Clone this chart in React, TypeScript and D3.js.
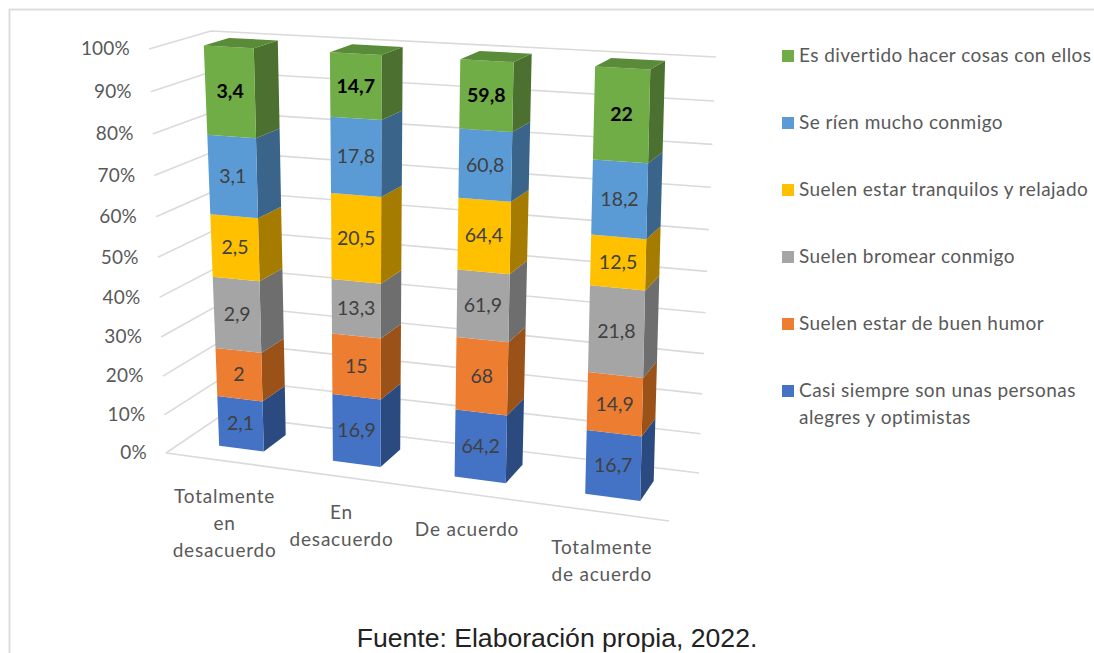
import React from "react";
import * as d3 from "d3";

const categories = [
  ["Totalmente", "en", "desacuerdo"],
  ["En", "desacuerdo"],
  ["De acuerdo"],
  ["Totalmente", "de acuerdo"],
];
const seriesNames = [
  ["Casi siempre son unas personas", "alegres y optimistas"],
  ["Suelen estar de buen humor"],
  ["Suelen bromear conmigo"],
  ["Suelen estar tranquilos y relajado"],
  ["Se ríen mucho conmigo"],
  ["Es divertido hacer cosas con ellos"],
];
const seriesValues = [
  [2.1, 16.9, 64.2, 16.7],
  [2, 15, 68, 14.9],
  [2.9, 13.3, 61.9, 21.8],
  [2.5, 20.5, 64.4, 12.5],
  [3.1, 17.8, 60.8, 18.2],
  [3.4, 14.7, 59.8, 22],
];
const valueLabels = [
  ["2,1", "16,9", "64,2", "16,7"],
  ["2", "15", "68", "14,9"],
  ["2,9", "13,3", "61,9", "21,8"],
  ["2,5", "20,5", "64,4", "12,5"],
  ["3,1", "17,8", "60,8", "18,2"],
  ["3,4", "14,7", "59,8", "22"],
];
const percentTicks = [0, 10, 20, 30, 40, 50, 60, 70, 80, 90, 100];
const frontColors = ["#4472C4", "#ED7D31", "#A5A5A5", "#FFC000", "#5B9BD5", "#70AD47"];
const sideColors = ["#2B4A80", "#9A5219", "#6E6E6E", "#A67C00", "#3A6489", "#4C7030"];
const topColor = "#5A8B38";

// Plot box corners on screen: [u, w] → bottom / top of the box
const boxBottom = { p00: [166, 453], p10: [669, 521], p01: [222, 415], p11: [699, 473] };
const boxTop = { p00: [149, 49], p10: [683, 78], p01: [211, 31], p11: [716, 57] };

type Pt = [number, number];

function homography(q: { p00: number[]; p10: number[]; p01: number[]; p11: number[] }) {
  // unit square → quad
  const [x0, y0] = q.p00, [x1, y1] = q.p10, [x2, y2] = q.p11, [x3, y3] = q.p01;
  const dx1 = x1 - x2, dx2 = x3 - x2, sx = x0 - x1 + x2 - x3;
  const dy1 = y1 - y2, dy2 = y3 - y2, sy = y0 - y1 + y2 - y3;
  const det = dx1 * dy2 - dx2 * dy1;
  const g = (sx * dy2 - dx2 * sy) / det;
  const h = (dx1 * sy - sx * dy1) / det;
  const a = x1 - x0 + g * x1, b = x3 - x0 + h * x3, c = x0;
  const d = y1 - y0 + g * y1, e = y3 - y0 + h * y3, f = y0;
  return (u: number, w: number): Pt => {
    const den = g * u + h * w + 1;
    return [(a * u + b * w + c) / den, (d * u + e * w + f) / den];
  };
}

const floorH = homography(boxBottom);
const ceilH = homography(boxTop);
const heightScale = d3.scaleLinear().domain([0, 100]).range([0, 1]);
const foreshorten = 1.064; // height spacing grows towards the top
const catBand = d3.scaleBand<number>().domain([0, 1, 2, 3]).range([0.007, 1.007]).paddingInner(0.6).paddingOuter(0.3);
const frontDepth = 0.3;
const backDepth = 0.72;
const barLean = 5; // columns lean slightly left of the wall's verticals

function warp(pct: number) {
  const s = heightScale(pct);
  return s / (s + foreshorten * (1 - s));
}

function project(u: number, pct: number, w: number): Pt {
  const t = warp(pct);
  const a = floorH(u, w);
  const b = ceilH(u, w);
  return [a[0] + (b[0] - a[0]) * t, a[1] + (b[1] - a[1]) * t];
}

function barPoint(u: number, pct: number, w: number): Pt {
  const p = project(u, pct, w);
  return [p[0] - barLean * warp(pct), p[1]];
}

const poly = (pts: Pt[]) => pts.map((p) => p[0].toFixed(1) + "," + p[1].toFixed(1)).join(" ");

const labelFont = "Lato, 'Open Sans', sans-serif";
const gridColor = "#DADADA";
const legendY = [56, 123, 190, 257, 324, 391];

export default function App() {
  const columns = categories.map((_, c) => {
    const total = d3.sum(seriesValues, (s) => s[c]);
    let acc = 0;
    const u0 = catBand(c)!;
    const u1 = u0 + catBand.bandwidth();
    const segs = seriesValues.map((s, i) => {
      const lo = (acc / total) * 100;
      acc += s[c];
      const hi = (acc / total) * 100;
      return { i, lo, hi };
    });
    return { c, u0, u1, segs };
  });

  return (
    <svg
      width={1094}
      height={653}
      viewBox="0 0 1094 653"
      style={{ position: "fixed", left: 0, top: 0, background: "#fff" }}
    >
      <polyline points="9.5,653 9.5,9.5 1094,9.5" fill="none" stroke="#DDDDDD" strokeWidth={2} />
      {percentTicks.map((t) => {
        const a = project(0, t, 0);
        const b = project(0, t, 1);
        const c = project(1, t, 1);
        return (
          <g key={t}>
            <polyline points={poly([a, b, c])} fill="none" stroke={gridColor} strokeWidth={1.6} />
            <text
              x={a[0] - 19}
              y={a[1] + 1.5}
              textAnchor="end"
              dominantBaseline="middle"
              fontFamily={labelFont}
              fontSize={19}
              letterSpacing={0.2}
              fill="#595959"
            >
              {t}%
            </text>
          </g>
        );
      })}
      <line
        x1={project(0, 0, 0)[0]}
        y1={project(0, 0, 0)[1]}
        x2={project(1, 0, 0)[0]}
        y2={project(1, 0, 0)[1]}
        stroke={gridColor}
        strokeWidth={1.6}
      />
      {columns.map(({ c, u0, u1, segs }) => (
        <g key={c}>
          {segs.map(({ i, lo, hi }) => (
            <g key={i}>
              <polygon
                points={poly([barPoint(u1, lo, frontDepth), barPoint(u1, lo, backDepth), barPoint(u1, hi, backDepth), barPoint(u1, hi, frontDepth)])}
                fill={sideColors[i]}
              />
              <polygon
                points={poly([barPoint(u0, lo, frontDepth), barPoint(u1, lo, frontDepth), barPoint(u1, hi, frontDepth), barPoint(u0, hi, frontDepth)])}
                fill={frontColors[i]}
              />
            </g>
          ))}
          <polygon
            points={poly([barPoint(u0, 100, frontDepth), barPoint(u1, 100, frontDepth), barPoint(u1, 100, backDepth), barPoint(u0, 100, backDepth)])}
            fill={topColor}
          />
          {segs.map(({ i, lo, hi }) => {
            const m = barPoint((u0 + u1) / 2, (lo + hi) / 2, frontDepth);
            return (
              <text
                key={i}
                x={m[0]}
                y={m[1] + 1.5}
                textAnchor="middle"
                dominantBaseline="middle"
                fontFamily={labelFont}
                fontSize={19.5}
                fontWeight={i === 5 ? 700 : 400}
                fill={i === 5 ? "#000" : "#404040"}
              >
                {valueLabels[i][c]}
              </text>
            );
          })}
          {categories[c].map((line, k) => {
            const e = project((u0 + u1) / 2, 0, 0);
            return (
              <text
                key={k}
                x={e[0]}
                y={e[1] + 37 + k * 27}
                textAnchor="middle"
                dominantBaseline="middle"
                fontFamily={labelFont}
                fontSize={19}
                letterSpacing={0.8}
                fill="#595959"
              >
                {line}
              </text>
            );
          })}
        </g>
      ))}
      {seriesNames.map((lines, i) => {
        const y = legendY[5 - i];
        return (
          <g key={i}>
            <rect x={782} y={y - 6} width={12} height={12} fill={frontColors[i]} />
            {lines.map((l, k) => (
              <text
                key={k}
                x={799}
                y={y + 1.5 + k * 27}
                dominantBaseline="middle"
                fontFamily={labelFont}
                fontSize={19}
                letterSpacing={0.45}
                fill="#595959"
              >
                {l}
              </text>
            ))}
          </g>
        );
      })}
      <text x={557} y={647} textAnchor="middle" fontFamily="'Liberation Sans', Arial, sans-serif" fontSize={26.6} fill="#222">
        Fuente: Elaboración propia, 2022.
      </text>
    </svg>
  );
}
